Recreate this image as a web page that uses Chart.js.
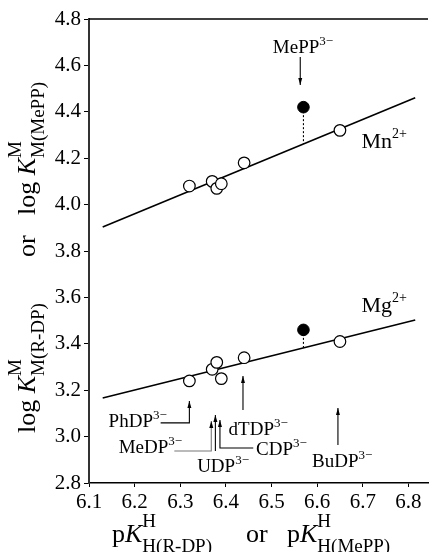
<!DOCTYPE html>
<html>
<head>
<meta charset="utf-8">
<script src="https://cdn.jsdelivr.net/npm/chart.js@4.4.1/dist/chart.umd.min.js"></script>
<style>
  html, body { margin: 0; padding: 0; background: #fff; }
  #chart { display: block; }
</style>
</head>
<body>
<canvas id="chart" width="435" height="552"></canvas>
<script>
// pK of the ligands (open circles) and their log stability constants
const pKH = [6.32, 6.37, 6.38, 6.39, 6.44, 6.65];
const logMn = [4.08, 4.10, 4.07, 4.09, 4.18, 4.32];
const logMg = [3.24, 3.29, 3.32, 3.25, 3.34, 3.41];

// MePP3- (filled circles)
const pKMePP = 6.57;
const logMnMePP = 4.42;
const logMgMePP = 3.46;

// straight reference lines (end points)
const lineX = [6.13, 6.815];
const lineMn = [3.903, 4.461];
const lineMg = [3.166, 3.503];

const xTicks = [6.1, 6.2, 6.3, 6.4, 6.5, 6.6, 6.7, 6.8];
const yTicks = [2.8, 3.0, 3.2, 3.4, 3.6, 3.8, 4.0, 4.2, 4.4, 4.6, 4.8];

// callouts: label, label position, leader path (data units), arrow at end
const callouts = [
    { name: 'PhDP', tx: 6.143, ty: 3.041, path: [[6.257, 3.059], [6.32, 3.059], [6.32, 3.153]] },
    { name: 'MeDP', tx: 6.165, ty: 2.929, path: [[6.287, 2.938], [6.368, 2.938], [6.368, 3.067]], grey: true },
    { name: 'UDP', tx: 6.337, ty: 2.847, path: [[6.377, 2.938], [6.377, 3.093]] },
    { name: 'CDP', tx: 6.466, ty: 2.921, path: [[6.46, 2.951], [6.387, 2.951], [6.387, 3.072]] },
    { name: 'dTDP', tx: 6.406, ty: 3.007, path: [[6.4375, 3.115], [6.4375, 3.261]] },
    { name: 'BuDP', tx: 6.589, ty: 2.869, path: [[6.6456, 2.964], [6.6456, 3.123]] },
    { name: 'MePP', tx: 6.503, ty: 4.653, path: [[6.563, 4.636], [6.563, 4.516]] }
];
const ionLabels = [
    { t: 'Mn', sup: '2+', x: 6.697, y: 4.244 },
    { t: 'Mg', sup: '2+', x: 6.697, y: 3.537 }
];

const FONT = "'Liberation Serif', 'DejaVu Serif', serif";

function pts(xs, ys) {
    return xs.map((x, i) => ({ x: x, y: ys[i] }));
}

// draws text with super/subscripts, returns end x
function drawRich(ctx, parts, x, y, big, small, up, down) {
    let cx = x;
    parts.forEach(p => {
        if (p.t !== undefined) {
            ctx.font = (p.it ? 'italic ' : '') + big + 'px ' + FONT;
            ctx.fillText(p.t, cx, y);
            cx += ctx.measureText(p.t).width;
        } else {
            ctx.font = small + 'px ' + FONT;
            let w = 0;
            if (p.sup) {
                ctx.fillText(p.sup, cx, y - up);
                w = Math.max(w, ctx.measureText(p.sup).width);
            }
            if (p.sub) {
                ctx.fillText(p.sub, cx, y + down);
                w = Math.max(w, ctx.measureText(p.sub).width);
            }
            cx += w;
        }
    });
    return cx;
}

function arrowHead(ctx, x0, y0, x1, y1) {
    const a = Math.atan2(y1 - y0, x1 - x0);
    const len = 7, half = 2;
    ctx.beginPath();
    ctx.moveTo(x1, y1);
    ctx.lineTo(x1 - len * Math.cos(a) + half * Math.sin(a), y1 - len * Math.sin(a) - half * Math.cos(a));
    ctx.lineTo(x1 - len * Math.cos(a) - half * Math.sin(a), y1 - len * Math.sin(a) + half * Math.cos(a));
    ctx.closePath();
    ctx.fill();
}

const extras = {
    id: 'extras',
    afterDraw(chart) {
        const ctx = chart.ctx;
        const xs = chart.scales.x, ys = chart.scales.y;
        const area = chart.chartArea;
        ctx.save();
        ctx.fillStyle = '#000';
        ctx.strokeStyle = '#000';
        ctx.textBaseline = 'alphabetic';
        ctx.textAlign = 'left';

        // top frame line
        ctx.lineWidth = 1.5;
        ctx.beginPath();
        ctx.moveTo(area.left, area.top);
        ctx.lineTo(area.right, area.top);
        ctx.stroke();

        // callouts
        callouts.forEach(c => {
            const p = c.path.map(q => [xs.getPixelForValue(q[0]), ys.getPixelForValue(q[1])]);
            ctx.strokeStyle = c.grey ? '#777' : '#000';
            ctx.lineWidth = 1.1;
            ctx.beginPath();
            p.forEach((q, i) => i ? ctx.lineTo(q[0], q[1]) : ctx.moveTo(q[0], q[1]));
            ctx.stroke();
            ctx.fillStyle = '#000';
            const n = p.length;
            arrowHead(ctx, p[n - 2][0], p[n - 2][1], p[n - 1][0], p[n - 1][1]);
            drawRich(ctx, [{ t: c.name }, { sup: '3\u2212' }],
                xs.getPixelForValue(c.tx), ys.getPixelForValue(c.ty), 19, 13, 8, 0);
        });

        ionLabels.forEach(l => {
            drawRich(ctx, [{ t: l.t }, { sup: l.sup }],
                xs.getPixelForValue(l.x), ys.getPixelForValue(l.y), 22, 14, 10, 0);
        });

        // x axis title
        const xt = [{ t: 'p' }, { t: 'K', it: true }, { sup: 'H', sub: 'H(R-DP)' }];
        const xt2 = [{ t: 'p' }, { t: 'K', it: true }, { sup: 'H', sub: 'H(MePP)' }];
        drawRich(ctx, xt, 112, 542, 26, 19, 15, 10);
        drawRich(ctx, [{ t: 'or' }], 246, 542, 26, 19, 15, 10);
        drawRich(ctx, xt2, 287, 542, 26, 19, 15, 10);

        // y axis title (rotated)
        ctx.translate(35, 433);
        ctx.rotate(-Math.PI / 2);
        const yt = [{ t: 'log ' }, { t: 'K', it: true }, { sup: 'M', sub: 'M(R-DP)' }];
        const yt2 = [{ t: 'log ' }, { t: 'K', it: true }, { sup: 'M', sub: 'M(MePP)' }];
        drawRich(ctx, yt, 0, 0, 26, 19, 14, 9);
        drawRich(ctx, [{ t: 'or' }], 176, 0, 26, 19, 14, 9);
        drawRich(ctx, yt2, 218, 0, 26, 19, 14, 9);
        ctx.restore();
    }
};

const openPoint = {
    type: 'scatter', showLine: false,
    pointRadius: 5.8, pointHoverRadius: 5.8,
    pointBackgroundColor: '#fff', pointBorderColor: '#000', pointBorderWidth: 1.2
};
const fullPoint = {
    type: 'scatter', showLine: false,
    pointRadius: 5.8, pointHoverRadius: 5.8,
    pointBackgroundColor: '#000', pointBorderColor: '#000', pointBorderWidth: 1
};
const fitLine = {
    type: 'line', showLine: true, pointRadius: 0,
    borderColor: '#000', borderWidth: 1.6, fill: false, tension: 0
};

// the fitted line value below each filled point
const slopeMn = (lineMn[1] - lineMn[0]) / (lineX[1] - lineX[0]);
const slopeMg = (lineMg[1] - lineMg[0]) / (lineX[1] - lineX[0]);
const mnOnLine = lineMn[0] + (pKMePP - lineX[0]) * slopeMn;
const mgOnLine = lineMg[0] + (pKMePP - lineX[0]) * slopeMg;

new Chart(document.getElementById('chart'), {
    type: 'scatter',
    data: {
        datasets: [
            Object.assign({ data: pts(pKH, logMn) }, openPoint),
            Object.assign({ data: pts(pKH, logMg) }, openPoint),
            Object.assign({ data: [{ x: pKMePP, y: logMnMePP }] }, fullPoint),
            Object.assign({ data: [{ x: pKMePP, y: logMgMePP }] }, fullPoint),
            Object.assign({ data: pts(lineX, lineMn) }, fitLine),
            Object.assign({ data: pts(lineX, lineMg) }, fitLine),
            Object.assign({ data: [{ x: pKMePP, y: logMnMePP }, { x: pKMePP, y: mnOnLine }] }, fitLine,
                { borderWidth: 1.1, borderDash: [2, 2] }),
            Object.assign({ data: [{ x: pKMePP, y: logMgMePP }, { x: pKMePP, y: mgOnLine }] }, fitLine,
                { borderWidth: 1.1, borderDash: [2, 2] })
        ]
    },
    options: {
        responsive: false,
        animation: false,
        devicePixelRatio: 1,
        layout: { padding: { top: 19, right: 0, left: 0, bottom: 0 } },
        plugins: { legend: { display: false }, tooltip: { enabled: false } },
        scales: {
            x: {
                type: 'linear', min: 6.1, max: 6.843,
                afterBuildTicks: s => { s.ticks = xTicks.map(v => ({ value: v })); },
                afterFit: s => { s.height = 69; },
                grid: { drawOnChartArea: false, drawTicks: true, tickLength: 4, color: '#000', lineWidth: 1 },
                border: { display: true, color: '#000', width: 1.5 },
                ticks: {
                    color: '#000', padding: 3,
                    font: { family: FONT, size: 21 },
                    callback: v => v.toFixed(1)
                }
            },
            y: {
                type: 'linear', min: 2.8, max: 4.8,
                afterBuildTicks: s => { s.ticks = yTicks.map(v => ({ value: v })); },
                afterFit: s => { s.width = 89; },
                grid: { drawOnChartArea: false, drawTicks: true, tickLength: 5, color: '#000', lineWidth: 1 },
                border: { display: true, color: '#333', width: 2 },
                ticks: {
                    color: '#000', padding: 3,
                    font: { family: FONT, size: 21 },
                    callback: v => v.toFixed(1)
                }
            }
        }
    },
    plugins: [extras]
});
</script>
</body>
</html>
